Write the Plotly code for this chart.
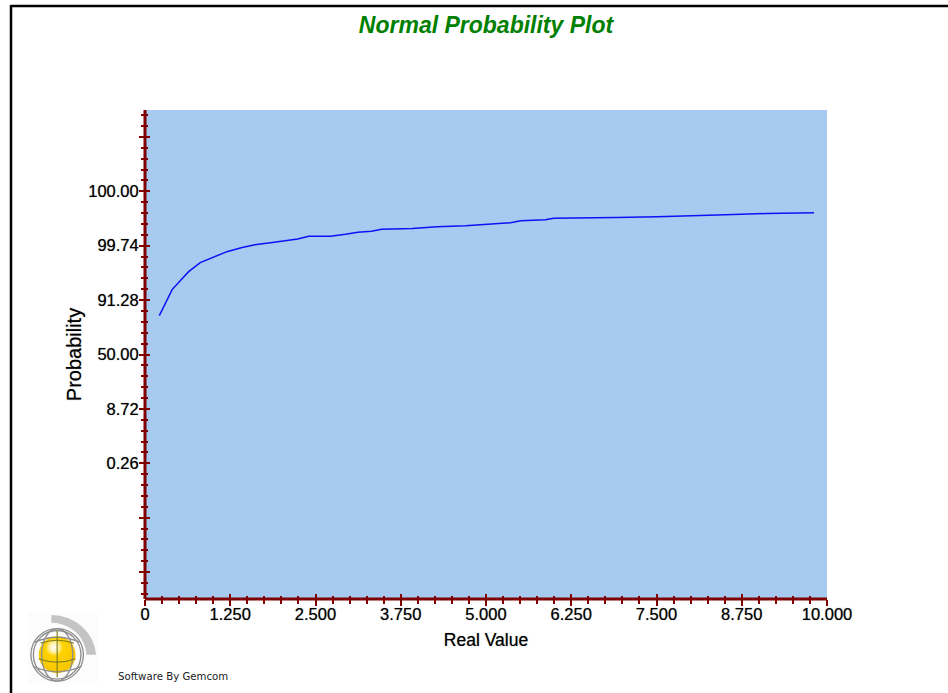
import base64
import plotly.graph_objects as go

# Data. Y is the position on the probability axis, in major-tick steps from 50%.
real_value = [0.21, 0.40, 0.53, 0.64, 0.81, 1.01, 1.20, 1.41, 1.61, 1.84, 2.24, 2.40, 2.72, 2.94, 3.12, 3.32,
              3.47, 3.92, 4.28, 4.70, 5.11, 5.36, 5.51, 5.87, 5.99, 6.38, 6.91, 7.51, 7.89, 8.51, 9.11, 9.81]
probability_position = [0.716, 1.198, 1.376, 1.523, 1.688, 1.798, 1.890, 1.963, 2.018, 2.055, 2.123, 2.174,
                        2.174, 2.211, 2.248, 2.266, 2.303, 2.316, 2.349, 2.367, 2.394, 2.422, 2.459, 2.477,
                        2.505, 2.508, 2.518, 2.532, 2.550, 2.569, 2.591, 2.606]
x_ticks = [0, 1.25, 2.5, 3.75, 5, 6.25, 7.5, 8.75, 10]
x_labels = ["0", "1.250", "2.500", "3.750", "5.000", "6.250", "7.500", "8.750", "10.000"]
y_ticks = [-4, -3, -2, -1, 0, 1, 2, 3, 4]
y_labels = ["", "", "0.26", "8.72", "50.00", "91.28", "99.74", "100.00", ""]

W, H = 948, 693
L, R, T, B = 145, 827, 110, 599
RED = "#800000"
FONT = "Liberation Sans"
HEAVY = "0 0 1px rgba(0,0,0,0.55)"


def px(x):
    return (x - L) / (R - L)


def py(y):
    return (B - y) / (B - T)


logo_svg = """<svg xmlns='http://www.w3.org/2000/svg' width='72' height='72' viewBox='0 0 72 72'>
<defs><radialGradient id='g' cx='0.42' cy='0.3' r='0.75'>
<stop offset='0' stop-color='#ffffff'/><stop offset='0.16' stop-color='#fff2b0'/>
<stop offset='0.32' stop-color='#ffd200'/><stop offset='1' stop-color='#f5c400'/></radialGradient></defs>
<rect width='72' height='72' fill='#fcfcfc'/>
<path d='M24 2 A46 44 0 0 1 70 43 L60 43 A36 34 0 0 0 24 10 Z' fill='#c4c4c4'/>
<circle cx='30' cy='43' r='19' fill='url(#g)'/>
<g fill='none' stroke='#8f8f8f' stroke-width='1.4'>
<ellipse cx='30' cy='43' rx='27' ry='27'/><ellipse cx='30' cy='43' rx='24.5' ry='25'/>
<ellipse cx='30' cy='43' rx='16' ry='27'/>
<path d='M7 30 Q30 20 53 30'/><path d='M5 55 Q30 66 55 55'/>
</g>
<g fill='none' stroke='#80801a' stroke-width='1.2'>
<path d='M13 31 Q30 25 47 31'/><path d='M11 47 Q30 54 49 47'/><line x1='30' y1='18' x2='30' y2='66'/>
</g>
</svg>"""
logo_uri = "data:image/svg+xml;base64," + base64.b64encode(logo_svg.encode()).decode()

fig = go.Figure()
fig.add_trace(go.Scatter(x=real_value, y=probability_position, mode="lines",
                         line=dict(color="#1010f5", width=1.5), hoverinfo="skip", showlegend=False))
fig.add_trace(go.Scatter(x=[None], y=[None], xaxis="x2", yaxis="y2", mode="lines", showlegend=False))

tick_font = dict(family=FONT, size=16.5, color="#000000", shadow=HEAVY)
x_title_font = dict(family=FONT, size=17.5, color="#000000", shadow=HEAVY)
y_title_font = dict(family=FONT, size=20, color="#000000", shadow=HEAVY)
x_range = [0, 10]
y_range = [-4.494, 4.494]

fig.update_layout(
    width=W, height=H, autosize=False,
    margin=dict(l=L, r=W - R, t=T, b=H - B),
    paper_bgcolor="#ffffff", plot_bgcolor="#A6CAF0",
    showlegend=False,
    title=dict(text="<b><i>Normal Probability Plot</i></b>", x=0.5, xref="paper", xanchor="center",
               y=1 - 25 / H, yref="container", yanchor="middle",
               font=dict(family=FONT, size=23, color="#008000")),
    xaxis=dict(range=x_range, tickmode="array", tickvals=x_ticks, ticktext=x_labels, tickfont=tick_font,
               ticks="outside", ticklen=6, tickwidth=2, tickcolor=RED,
               minor=dict(ticks="outside", tick0=0, dtick=0.25, ticklen=4, tickwidth=2, tickcolor=RED),
               showgrid=False, zeroline=False, showline=False,
               ticklabelstandoff=-6,
               title=dict(text="Real Value", font=x_title_font, standoff=11)),
    yaxis=dict(range=y_range, tickmode="array", tickvals=y_ticks, ticktext=y_labels, tickfont=tick_font,
               ticks="outside", ticklen=5, tickwidth=2, tickcolor=RED,
               minor=dict(ticks="outside", tick0=0, dtick=0.2, ticklen=3, tickwidth=2, tickcolor=RED),
               showgrid=False, zeroline=False, showline=False,
               ticklabelstandoff=-3,
               title=dict(text="Probability", font=y_title_font, standoff=1)),
    xaxis2=dict(range=x_range, overlaying="x", anchor="y2", side="bottom", tickmode="array", tickvals=x_ticks,
                showticklabels=False, ticks="inside", ticklen=5, tickwidth=2, tickcolor=RED,
                minor=dict(ticks="inside", tick0=0, dtick=0.25, ticklen=3, tickwidth=2, tickcolor=RED),
                showgrid=False, zeroline=False, showline=False),
    yaxis2=dict(range=y_range, overlaying="y", anchor="x2", side="left", tickmode="array", tickvals=y_ticks,
                showticklabels=False, ticks="inside", ticklen=5, tickwidth=2, tickcolor=RED,
                minor=dict(ticks="inside", tick0=0, dtick=0.2, ticklen=3, tickwidth=2, tickcolor=RED),
                showgrid=False, zeroline=False, showline=False),
    shapes=[
        dict(type="line", xref="paper", yref="paper", x0=px(11), x1=px(948), y0=py(6), y1=py(6),
             line=dict(color="#000000", width=2.5)),
        dict(type="line", xref="paper", yref="paper", x0=px(11), x1=px(11), y0=py(5), y1=py(693),
             line=dict(color="#000000", width=2.5)),
        dict(type="line", xref="paper", yref="paper", x0=0, x1=0, y0=0, y1=1, line=dict(color=RED, width=3)),
        dict(type="line", xref="paper", yref="paper", x0=0, x1=1, y0=0, y1=0, line=dict(color=RED, width=3)),
    ],
    images=[dict(source=logo_uri, xref="paper", yref="paper", x=px(28), y=py(613),
                 sizex=70 / (R - L), sizey=70 / (B - T), xanchor="left", yanchor="top",
                 sizing="stretch", layer="above")],
    annotations=[dict(text="Software By Gemcom", xref="paper", yref="paper", x=px(116), y=py(676),
                      xanchor="left", yanchor="middle", showarrow=False,
                      font=dict(family="DejaVu Sans", size=10.2, color="#222222"))],
)

fig.write_html("out.html", config=dict(displayModeBar=False),
               post_script="document.body.style.margin='0';")
